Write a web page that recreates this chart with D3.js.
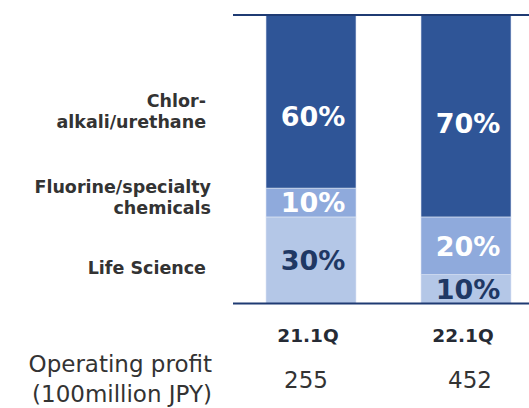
<!DOCTYPE html>
<html>
<head>
<meta charset="utf-8">
<script src="https://cdn.jsdelivr.net/npm/d3@7"></script>
<style>
  body { margin: 0; background: #fff; }
  svg { display: block; font-family: "DejaVu Sans", Verdana, sans-serif; }
</style>
</head>
<body>
<svg id="chart" width="529" height="408"></svg>
<script>
// data
var quarters = ['21.1Q', '22.1Q'];
var segments = ['Life Science', 'Fluorine/specialty chemicals', 'Chlor-alkali/urethane'];
var lifeScience = [30, 10];
var fluorine = [10, 20];
var chlorAlkali = [60, 70];
var operatingProfit = [255, 452];

var colors = {'Life Science': '#b4c7e7', 'Fluorine/specialty chemicals': '#8faadc', 'Chlor-alkali/urethane': '#2f5597'};
var labelColors = {'Life Science': '#1f3864', 'Fluorine/specialty chemicals': '#ffffff', 'Chlor-alkali/urethane': '#ffffff'};
var legendLines = {
  'Chlor-alkali/urethane': ['Chlor-', 'alkali/urethane'],
  'Fluorine/specialty chemicals': ['Fluorine/specialty', 'chemicals'],
  'Life Science': ['Life Science']
};

var rows = quarters.map(function (q, i) {
  return {quarter: q,
          'Life Science': lifeScience[i],
          'Fluorine/specialty chemicals': fluorine[i],
          'Chlor-alkali/urethane': chlorAlkali[i]};
});

var svg = d3.select('#chart');

var x = d3.scaleBand().domain(quarters).range([266, 511]).paddingInner(65 / 155).paddingOuter(0);
var y = d3.scaleLinear().domain([0, 100]).range([303.5, 15]);

var stacked = d3.stack().keys(segments)(rows);

var layers = svg.selectAll('g.layer')
  .data(stacked)
  .enter().append('g')
  .attr('class', 'layer')
  .attr('fill', d => colors[d.key]);

layers.selectAll('rect')
  .data(d => d)
  .enter().append('rect')
  .attr('x', d => x(d.data.quarter))
  .attr('y', d => y(d[1]))
  .attr('width', x.bandwidth())
  .attr('height', d => y(d[0]) - y(d[1]))
  .attr('stroke', '#dde5f3')
  .attr('stroke-width', 0.6);

// percent labels
layers.each(function (layer) {
  var top = layer.key == 'Chlor-alkali/urethane';
  d3.select(this).selectAll('text')
    .data(layer)
    .enter().append('text')
    .attr('x', d => x(d.data.quarter) + x.bandwidth() / 2 + 2)
    .attr('y', function (d, i) {
      var mid = (y(d[0]) + y(d[1])) / 2;
      if (top) mid = i == 0 ? mid + 15 : mid + 7;
      return mid;
    })
    .attr('dy', '0.36em')
    .attr('text-anchor', 'middle')
    .attr('font-size', 27)
    .attr('font-weight', 'bold')
    .attr('fill', labelColors[layer.key])
    .text(d => (d[1] - d[0]) + '%');
});

// top and bottom rules
svg.append('line').attr('x1', 233).attr('x2', 529).attr('y1', y(100)).attr('y2', y(100))
  .attr('stroke', '#1f3b73').attr('stroke-width', 2);
svg.append('line').attr('x1', 233).attr('x2', 529).attr('y1', y(0)).attr('y2', y(0))
  .attr('stroke', '#1f3b73').attr('stroke-width', 2);

// segment names on the left
var labelY = {'Chlor-alkali/urethane': 111, 'Fluorine/specialty chemicals': 197, 'Life Science': 268};
stacked.forEach(function (l) {
  var lines = legendLines[l.key];
  var cy = labelY[l.key];
  var t = svg.append('text')
    .attr('text-anchor', 'end')
    .attr('font-size', 17.5)
    .attr('font-weight', 'bold')
    .attr('fill', '#333333');
  lines.forEach(function (ln, i) {
    t.append('tspan')
      .attr('x', l.key == 'Fluorine/specialty chemicals' ? 211 : 206)
      .attr('y', cy + (i - (lines.length - 1) / 2) * 21)
      .attr('dy', '0.36em')
      .text(ln);
  });
});

// category axis labels
svg.selectAll('text.cat')
  .data(quarters)
  .enter().append('text')
  .attr('class', 'cat')
  .attr('x', d => x(d) + x.bandwidth() / 2 - 3)
  .attr('y', 335)
  .attr('dy', '0.36em')
  .attr('text-anchor', 'middle')
  .attr('font-size', 18.5)
  .attr('font-weight', 'bold')
  .attr('fill', '#262b35')
  .text(d => d);

// operating profit row
var op = svg.append('text')
  .attr('text-anchor', 'end')
  .attr('font-size', 23)
  .attr('fill', '#333333');
op.append('tspan').attr('x', 212).attr('y', 364).attr('dy', '0.36em').text('Operating profit');
op.append('tspan').attr('x', 212).attr('y', 394).attr('dy', '0.36em').text('(100million JPY)');

svg.selectAll('text.op')
  .data(operatingProfit)
  .enter().append('text')
  .attr('class', 'op')
  .attr('x', (d, i) => x(quarters[i]) + x.bandwidth() / 2 + (i == 0 ? -5 : 4))
  .attr('y', 380)
  .attr('dy', '0.36em')
  .attr('text-anchor', 'middle')
  .attr('font-size', 23)
  .attr('fill', '#333333')
  .text(d => d);
</script>
</body>
</html>
